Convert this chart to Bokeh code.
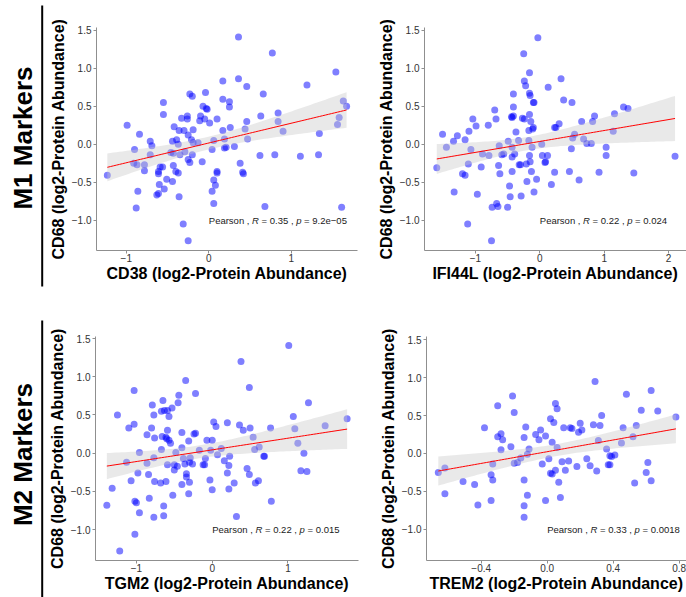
import numpy as np
from bokeh.plotting import figure
from bokeh.layouts import row, column
from bokeh.models import Range1d, FixedTicker
from bokeh.core.properties import value
from bokeh.embed import file_html
from bokeh.resources import INLINE

FONT = "Liberation Sans"

# ---------------- data ----------------
cd38_x = [0.36, 0.77, 1.54, 0.17, 0.36, 0.46, 1.19, -0.23, -0.20, -0.04, 0.17, 0.25, 0.66, -0.55, -0.55,
          -0.07, -0.03, -0.02, 0.25, 1.63, 1.67, 0.84, -0.26, -0.33, -0.26, -0.10, -0.05, 0.10, 0.63, 0.46,
          0.84, 1.58, 1.56, -0.11, 0.01, -0.99, -0.42, -0.19, -0.36, -0.30, 0.17, 0.26, 0.44, 0.90, -0.84,
          1.34, -0.25, 0.47, 0.19, -0.71, -0.44, -0.39, -0.21, 0.06, -0.69, -0.37, -0.19, -0.13, 0.31, 0.21,
          0.19, -0.90, 0.04, -0.71, -0.46, -0.43, -0.35, -0.29, -0.20, 0.62, 0.80, 1.11, 1.33, -0.91, -0.87,
          -0.78, -0.78, -0.25, -0.23, -0.08, -0.59, -0.56, -0.43, 0.38, -0.61, -0.61, -0.40, -0.37, 0.10, 0.10,
          0.41, 0.42, -1.23, -0.51, -0.44, 0.06, -0.60, 0.08, -0.54, 0.04, -0.86, -0.63, -0.61, -0.36, 0.06,
          -0.88, 0.68, 1.61, -0.31, -0.25]
cd38_y = [1.41, 1.20, 0.95, 0.83, 0.86, 0.76, 0.78, 0.66, 0.63, 0.68, 0.59, 0.56, 0.66, 0.55, 0.39,
          0.50, 0.47, 0.46, 0.49, 0.57, 0.50, 0.41, 0.37, 0.34, 0.33, 0.37, 0.33, 0.33, 0.37, 0.30,
          0.30, 0.35, 0.26, 0.31, 0.28, 0.25, 0.23, 0.19, 0.18, 0.18, 0.18, 0.22, 0.20, 0.17, 0.13,
          0.14, 0.12, 0.07, 0.07, 0.04, 0.04, 0.06, 0.06, 0.05, -0.02, 0.00, 0.02, 0.02, -0.03, -0.04,
          -0.05, -0.07, -0.07, -0.14, -0.11, -0.12, -0.14, -0.10, -0.14, -0.15, -0.14, -0.16, -0.14, -0.25, -0.27,
          -0.27, -0.35, -0.20, -0.24, -0.23, -0.30, -0.30, -0.28, -0.25, -0.36, -0.39, -0.36, -0.38, -0.36, -0.38,
          -0.37, -0.39, -0.41, -0.46, -0.49, -0.47, -0.53, -0.54, -0.59, -0.62, -0.62, -0.67, -0.65, -0.69, -0.78,
          -0.84, -0.82, -0.83, -1.05, -1.27]

ifi44l_x = [-0.03, -0.25, -0.16, -0.24, -0.22, 0.33, 0.13, -0.16, -0.15, -0.41, -0.10, -0.09, 0.37, 0.50, -0.70,
            -0.41, -0.44, -0.43, -0.41, -0.27, -0.24, -0.16, -0.14, -1.04, -0.68, 0.30, 0.23, 0.25, 0.65, 0.85,
            0.82, 1.16, 1.30, 1.37, 1.14, -0.99, -0.80, -1.10, -1.34, -1.28, -1.51, -1.16, -1.45, -1.07, -0.89,
            -0.79, -0.63, -0.59, -0.56, -0.49, -0.43, -0.33, -0.17, -0.12, -0.17, -0.11, -0.10, -0.37, 0.03, -0.16,
            -0.15, -0.21, -0.32, -0.30, -0.43, -0.39, -0.43, -0.13, 0.04, 0.08, 0.09, 0.12, 0.23, 0.46, 0.49,
            0.54, 0.68, 0.51, 0.73, 0.80, 1.03, 1.03, 0.92, 1.46, 2.10, 0.61, 0.18, -0.05, -0.20, -0.64,
            -0.62, -0.91, -1.11, -1.20, -1.16, -1.60, -0.47, -0.46, -0.29, -0.09, -0.97, -1.33, -0.67, -0.65, -0.74,
            -0.50, -1.12, -0.75]
ifi44l_y = [1.40, 1.19, 0.94, 0.83, 0.77, 0.86, 0.75, 0.67, 0.64, 0.66, 0.55, 0.55, 0.58, 0.55, 0.45,
            0.49, 0.36, 0.35, 0.37, 0.34, 0.33, 0.39, 0.30, 0.33, 0.33, 0.27, 0.22, 0.22, 0.30, 0.37,
            0.30, 0.40, 0.49, 0.47, 0.17, 0.24, 0.25, 0.17, 0.04, 0.11, 0.13, 0.06, -0.04, -0.07, -0.13,
            -0.15, -0.02, -0.14, -0.13, 0.04, -0.04, 0.05, 0.05, -0.04, 0.18, 0.20, 0.22, 0.16, 0.00, -0.15,
            -0.23, -0.26, -0.27, -0.27, -0.17, -0.13, -0.36, -0.36, -0.15, -0.24, -0.23, -0.15, -0.37, -0.36, -0.06,
            0.13, 0.07, 0.08, 0.01, 0.01, -0.04, -0.15, -0.37, -0.38, -0.16, -0.47, -0.53, -0.46, -0.49, -0.28,
            -0.39, -0.30, -0.26, -0.39, -0.41, -0.31, -0.55, -0.69, -0.68, -0.63, -0.66, -0.63, -0.78, -0.82, -0.83,
            -0.83, -1.05, -1.27]

tgm2_x = [1.01, 0.38, -0.35, 0.49, -1.03, -0.44, -0.22, 1.27, -0.45, -0.65, -0.79, -0.67, -0.63, -0.59, -0.53,
          -0.57, -1.25, -0.77, 1.07, 1.78, -1.03, -1.10, -0.80, -0.59, -0.22, -0.24, 0.02, 0.05, 0.20, 0.36,
          0.41, 0.50, 0.77, 1.09, 1.49, -0.86, -0.76, -0.66, -0.61, -0.57, -0.55, -0.60, -0.40, -0.31, -0.07,
          0.00, 0.54, 1.13, -1.13, -0.96, -0.86, -0.77, -0.67, -0.48, -0.40, -0.38, -0.29, -0.17, -0.09, -0.02,
          0.07, 0.12, 0.56, 0.62, 0.68, 0.69, 1.21, -0.59, -0.50, -0.46, -0.50, -0.36, -0.26, -0.30, -0.12,
          -0.10, 0.16, 0.22, 0.23, 0.46, 0.49, 0.20, 1.17, 1.25, -1.07, -0.98, -0.84, -0.76, -0.61, -0.68,
          -0.40, -0.34, -0.34, -0.30, -0.03, 0.00, 0.29, 0.22, 0.57, 0.61, -1.32, -0.52, -0.31, -0.83, -1.02,
          -1.00, -0.96, -1.39, -0.64, -0.64, -0.77, 0.78, 0.32, -1.02, -1.22]
tgm2_y = [1.41, 1.20, 0.95, 0.86, 0.82, 0.76, 0.78, 0.66, 0.66, 0.69, 0.63, 0.55, 0.56, 0.56, 0.59,
          0.48, 0.50, 0.50, 0.48, 0.45, 0.38, 0.33, 0.33, 0.30, 0.26, 0.25, 0.41, 0.35, 0.40, 0.37,
          0.30, 0.33, 0.33, 0.32, 0.36, 0.24, 0.20, 0.22, 0.21, 0.17, 0.13, 0.19, 0.27, 0.16, 0.17,
          0.17, 0.21, 0.13, -0.12, 0.01, -0.13, -0.06, 0.05, 0.01, 0.07, -0.07, -0.06, 0.04, -0.07, 0.04,
          -0.02, 0.06, 0.05, 0.08, -0.04, -0.04, 0.00, -0.15, -0.15, -0.17, -0.22, -0.14, -0.14, -0.12, -0.15,
          -0.15, -0.10, -0.16, -0.04, -0.20, -0.28, -0.26, -0.23, -0.24, -0.36, -0.26, -0.28, -0.37, -0.37, -0.39,
          -0.41, -0.27, -0.31, -0.38, -0.35, -0.48, -0.39, -0.47, -0.39, -0.36, -0.46, -0.55, -0.53, -0.59, -0.63,
          -0.65, -0.78, -0.68, -0.69, -0.82, -0.84, -0.63, -0.83, -1.06, -1.28]

trem2_x = [0.29, 0.48, 0.63, -0.21, -0.30, 0.05, 0.06, -0.20, 0.57, 0.67, 0.78, 0.33, 0.02, 0.04, -0.38,
           -0.13, -0.04, 0.10, 0.14, 0.15, 0.20, 0.19, 0.21, 0.28, 0.32, 0.46, 0.54, -0.30, -0.28, -0.27,
           -0.14, -0.07, -0.05, -0.01, 0.03, 0.06, -0.28, -0.22, -0.11, -0.12, -0.16, -0.20, -0.18, -0.33, -0.03,
           0.01, 0.09, 0.13, 0.11, 0.18, 0.24, 0.26, 0.30, 0.31, 0.36, 0.45, 0.52, 0.38, 0.39, 0.41,
           0.37, 0.38, 0.61, 0.60, 0.63, 0.53, -0.66, -0.62, -0.62, -0.51, -0.44, -0.42, -0.34, -0.33, -0.34,
           -0.14, -0.12, -0.14, -0.14, -0.01, 0.02, 0.03, 0.05, 0.07, 0.08]
trem2_y = [0.95, 0.78, 0.83, 0.76, 0.63, 0.66, 0.59, 0.54, 0.57, 0.56, 0.48, 0.50, 0.46, 0.41, 0.34,
           0.35, 0.31, 0.34, 0.34, 0.33, 0.40, 0.28, 0.31, 0.38, 0.37, 0.34, 0.37, 0.22, 0.26, 0.18,
           0.21, 0.25, 0.18, 0.23, 0.15, 0.08, 0.05, 0.09, 0.06, -0.01, -0.06, -0.13, -0.12, -0.14, -0.14,
           -0.07, -0.11, -0.10, -0.22, -0.17, -0.07, -0.16, -0.23, 0.17, 0.06, 0.14, 0.22, -0.03, -0.04, -0.02,
           -0.15, -0.15, -0.12, -0.25, -0.36, -0.39, -0.25, -0.19, -0.53, -0.37, -0.41, -0.68, -0.28, -0.35, -0.62,
           -0.35, -0.55, -0.69, -0.84, -0.62, -0.26, -0.27, -0.22, -0.38, -0.58]

x_titles = ["CD38 (log2-Protein Abundance)", "IFI44L (log2-Protein Abundance)",
            "TGM2 (log2-Protein Abundance)", "TREM2 (log2-Protein Abundance)"]
y_title = "CD68 (log2-Protein Abundance)"
row_labels = ["M1 Markers", "M2 Markers"]
pearson_r = ["0.35", "0.22", "0.22", "0.33"]
pearson_p = ["9.2e\u221205", "0.024", "0.015", "0.0018"]
label_x = 0.0
label_y = -1.0
x_ticks = [[-1, 0, 1], [-1, 0, 1, 2], [-1, 0, 1], [-0.4, 0.0, 0.4, 0.8]]
x_tick_dec = [0, 0, 0, 1]
y_ticks = [-1.0, -0.5, 0.0, 0.5, 1.0, 1.5]

# ---------------- helpers ----------------
NB = "\u00a0"
AW = {' ': 278, NB: 278, ',': 278, '.': 278, '=': 584, '\u2212': 584, '-': 333, 'P': 667, 'e': 556,
      'a': 556, 'r': 333, 's': 500, 'o': 556, 'n': 556, 'R': 722, 'p': 556}


def tw(s, size):
    return sum(AW.get(c, 556) for c in s) * size / 1000.0


def fmt(v, d):
    s = f"{abs(v):.{d}f}"
    return ("\u2212" + s) if v < 0 else s


def fit_band(x, y, npts=80):
    x = np.asarray(x, float)
    y = np.asarray(y, float)
    n = len(x)
    b, a = np.polyfit(x, y, 1)
    xs = np.linspace(x.min(), x.max(), npts)
    yh = a + b * xs
    res = y - (a + b * x)
    s = np.sqrt(np.sum(res ** 2) / (n - 2))
    sxx = np.sum((x - x.mean()) ** 2)
    se = s * np.sqrt(1.0 / n + (xs - x.mean()) ** 2 / sxx)
    t = 1.98
    return xs, yh, yh - t * se, yh + t * se


def panel(xd, yd, xr, yr, w, h, bl, br, bt, bb, i):
    p = figure(width=w, height=h, x_range=Range1d(*xr), y_range=Range1d(*yr),
               output_backend="svg", toolbar_location=None,
               min_border_left=bl, min_border_right=br, min_border_top=bt, min_border_bottom=bb)
    p.outline_line_color = None
    p.grid.visible = False
    p.scatter(xd, yd, size=7, fill_color="blue", fill_alpha=0.5, line_color=None)
    xs, yh, lo, hi = fit_band(xd, yd)
    p.varea(x=xs, y1=lo, y2=hi, fill_color="#c8c8c8", fill_alpha=0.4)
    p.line(xs, yh, line_color="red", line_width=1)

    size = 9.5
    pieces = ["Pearson" + NB + "," + NB, "R", NB + "=" + NB + pearson_r[i] + NB + "," + NB, "p",
              NB + "=" + NB + pearson_p[i]]
    offs = []
    acc = 0.0
    for s in pieces:
        offs.append(acc)
        acc += tw(s, size)
    for ital in (False, True):
        idx = [k for k in range(len(pieces)) if (k in (1, 3)) == ital]
        p.text(x=[label_x] * len(idx), y=[label_y] * len(idx), text=[pieces[k] for k in idx],
               x_offset=[offs[k] for k in idx], text_font=value(FONT), text_font_size="9.5px",
               text_font_style="italic" if ital else "normal", text_color="#1a1a1a",
               text_align="left", text_baseline="middle")

    p.xaxis.ticker = FixedTicker(ticks=x_ticks[i])
    p.xaxis.major_label_overrides = {float(v): fmt(v, x_tick_dec[i]) for v in x_ticks[i]}
    p.yaxis.ticker = FixedTicker(ticks=y_ticks)
    p.yaxis.major_label_overrides = {float(v): fmt(v, 1) for v in y_ticks}
    p.xaxis.axis_label = x_titles[i]
    p.yaxis.axis_label = y_title
    for ax in (p.xaxis[0], p.yaxis[0]):
        ax.axis_line_color = "#8f8f8f"
        ax.axis_line_width = 1
        ax.major_tick_line_color = "#8f8f8f"
        ax.major_tick_in = 0
        ax.major_tick_out = 3
        ax.minor_tick_line_color = None
        ax.major_label_text_font = FONT
        ax.major_label_text_font_size = "10px"
        ax.major_label_text_color = "#333333"
        ax.axis_label_text_font = FONT
        ax.axis_label_text_font_size = "16px"
        ax.axis_label_text_font_style = "bold"
        ax.axis_label_text_color = "black"
    p.xaxis.major_label_standoff = 0
    p.xaxis.axis_label_standoff = 0
    p.yaxis.major_label_standoff = 2
    p.yaxis.axis_label_standoff = 2
    return p


f1 = panel(cd38_x, cd38_y, (-1.3612, 1.8024), (-1.3987, 1.5355), 318, 300, 52, 5, 27, 50, 0)
f2 = panel(ifi44l_x, ifi44l_y, (-1.7904, 2.2780), (-1.3987, 1.5355), 324, 300, 62, 0, 27, 50, 1)
f3 = panel(tgm2_x, tgm2_y, (-1.5396, 1.9301), (-1.4045, 1.5275), 318, 297, 51, 4, 36, 37, 2)
f4 = panel(trem2_x, trem2_y, (-0.7315, 0.8442), (-1.4116, 1.5435), 324, 297, 64, 0, 36, 37, 3)

# left strip with the row labels and separators (coordinates in page pixels, y up)
H = 597
lf = figure(width=44, height=H, x_range=Range1d(0, 44), y_range=Range1d(0, H),
            output_backend="svg", toolbar_location=None, x_axis_type=None, y_axis_type=None,
            min_border_left=0, min_border_right=0, min_border_top=0, min_border_bottom=0)
lf.outline_line_color = None
lf.grid.visible = False
lf.text(x=[22, 22], y=[H - 137.5, H - 454], text=row_labels, angle=np.pi / 2,
        text_font=value(FONT), text_font_size="26px", text_font_style="bold", text_color="black",
        text_align="center", text_baseline="middle")
lf.segment(x0=[41.7, 41.7], y0=[H - 5, H - 320], x1=[41.7, 41.7], y1=[H - 286, -2],
           line_color="black", line_width=2)

layout = row(lf, column(row(f1, f2), row(f3, f4)))

open("out.html", "w").write(file_html(layout, INLINE))
